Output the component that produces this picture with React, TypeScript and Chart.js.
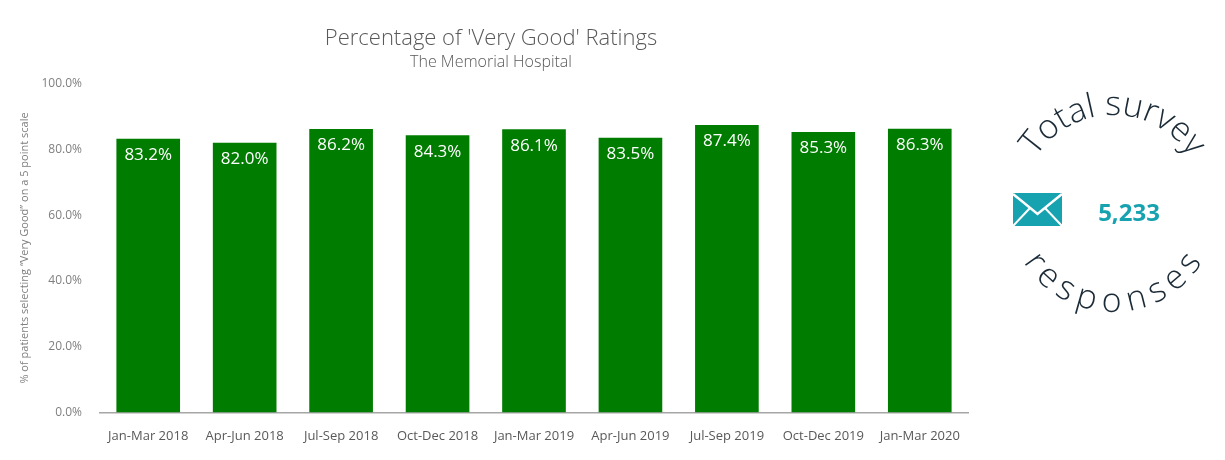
import React, { useEffect, useRef } from "react";
import { Chart, registerables } from "chart.js";
Chart.register(...registerables);

const categories = ["Jan-Mar 2018","Apr-Jun 2018","Jul-Sep 2018","Oct-Dec 2018","Jan-Mar 2019","Apr-Jun 2019","Jul-Sep 2019","Oct-Dec 2019","Jan-Mar 2020"];
const values = [83.2, 82.0, 86.2, 84.3, 86.1, 83.5, 87.4, 85.3, 86.3];
const yTicks = [0, 20, 40, 60, 80, 100];
const totalResponses = "5,233";

const FONT = "'Open Sans', Lato, sans-serif";

const labelPlugin = {
  id: "barLabels",
  afterDatasetsDraw(chart: any) {
    const ctx = chart.ctx;
    const meta = chart.getDatasetMeta(0);
    ctx.save();
    ctx.fillStyle = "#ffffff";
    ctx.font = `17px ${FONT}`;
    ctx.textAlign = "center";
    ctx.textBaseline = "top";
    meta.data.forEach((bar: any, i: number) => {
      ctx.fillText(values[i].toFixed(1) + "%", bar.x, bar.y + 8);
    });
    ctx.restore();
  },
};

export default function App() {
  const ref = useRef<HTMLCanvasElement>(null);
  useEffect(() => {
    const chart = new Chart(ref.current!, {
      type: "bar",
      data: {
        labels: categories,
        datasets: [{ data: values, backgroundColor: "#007d00", barPercentage: 0.66, categoryPercentage: 1 }],
      },
      options: {
        animation: false,
        responsive: false,
        layout: { padding: { left: 14, right: 257, top: 6, bottom: 8 } },
        plugins: {
          legend: { display: false },
          tooltip: { enabled: false },
          title: { display: true, text: "Percentage of 'Very Good' Ratings", color: "#595959", font: { family: FONT, size: 22, weight: "300" as any }, padding: { top: 20, bottom: 0 } },
          subtitle: { display: true, text: "The Memorial Hospital", color: "#595959", font: { family: FONT, size: 16, weight: "300" as any }, padding: { top: 0, bottom: 12 } },
        },
        scales: {
          y: {
            min: 0, max: 100,
            afterBuildTicks: (s: any) => { s.ticks = yTicks.map((v) => ({ value: v })); },
            afterFit: (s: any) => { s.width = 86; },
            grid: { display: false },
            border: { display: false },
            ticks: { color: "#7f7f7f", font: { family: FONT, size: 12 }, callback: (v: any) => Number(v).toFixed(1) + "%", padding: 10 },
            title: { display: true, text: "% of patients selecting \u201cVery Good\u201d on a 5 point scale", color: "#7f7f7f", font: { family: FONT, size: 11 } },
          },
          x: {
            grid: { display: false },
            border: { display: true, color: "#a6a6a6", width: 1.5 },
            ticks: { color: "#595959", font: { family: FONT, size: 13 }, maxRotation: 0, padding: 8 },
          },
        },
      },
      plugins: [labelPlugin],
    });
    return () => chart.destroy();
  }, []);
  const cx = 1113, cy = 207;
  return (
    <div style={{ position: "absolute", left: 0, top: 0, width: 1225, height: 460, background: "#fff" }}>
      <canvas ref={ref} width={1225} height={460} style={{ position: "absolute", left: 0, top: 0 }} />
      <svg width={1225} height={460} style={{ position: "absolute", left: 0, top: 0 }}>
        <defs>
          <path id="topArc" d={`M ${cx - 92} ${cy} A 92 92 0 0 1 ${cx + 92} ${cy}`} />
          <path id="botArc" d={`M ${cx - 76} ${cy} A 76 76 0 0 0 ${cx + 76} ${cy}`} />
        </defs>
        <text fill="#1a2a36" fontFamily={FONT} fontSize="34" fontWeight="300">
          <textPath href="#topArc" startOffset="50%" textAnchor="middle">Total survey</textPath>
        </text>
        <text fill="#1a2a36" fontFamily={FONT} fontSize="34" fontWeight="300" dominantBaseline="hanging">
          <textPath href="#botArc" startOffset="50%" textAnchor="middle">responses</textPath>
        </text>
        <g>
          <rect x={1013} y={193} width={49} height={33} fill="#17a2b0" />
          <polyline points="1013,194 1037.5,214 1062,194" fill="none" stroke="#fff" strokeWidth="2.5" />
          <line x1={1013} y1={226} x2={1030} y2={208} stroke="#fff" strokeWidth="2" />
          <line x1={1062} y1={226} x2={1045} y2={208} stroke="#fff" strokeWidth="2" />
        </g>
        <text x={1129} y={221} fill="#17a2b0" fontFamily={FONT} fontSize="24" fontWeight="bold" textAnchor="middle">{totalResponses}</text>
      </svg>
    </div>
  );
}
